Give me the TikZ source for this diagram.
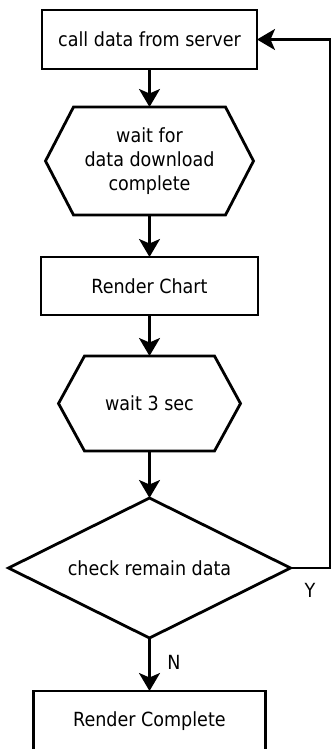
\documentclass[tikz,border=0pt]{standalone}
\usepackage{fontspec}
\setmainfont{DejaVu Sans Condensed}
\usetikzlibrary{arrows.meta,calc}

\tikzset{
  lbl/.style={font=\fontsize{19.5}{24}\selectfont, text=black},
  boxnode/.style={lbl, rectangle, draw, line width=2.8pt, outer sep=0pt,
    inner sep=0pt, align=center},
  shapeholder/.style={lbl, rectangle, outer sep=0pt, inner sep=0pt, align=center},
  outline/.style={line width=2.8pt, line join=miter},
  flow/.style={line width=2.4pt, -{Stealth[length=18pt,width=21pt,inset=4.5pt]}},
}

\begin{document}
\begin{tikzpicture}[x=1pt,y=-1pt]
  \useasboundingbox (0,0) rectangle (331,749);
  \clip (0,0) rectangle (331,749);

  % process boxes
  \node[boxnode, minimum width=215pt, minimum height=59pt] (call) at (149.5,39.5)
    {call data from server};
  \node[boxnode, minimum width=217pt, minimum height=58pt] (chart) at (149.5,286)
    {Render Chart};
  \node[boxnode, minimum width=232pt, minimum height=60pt] (done) at (149.5,721)
    {Render Complete};

  % hexagonal wait steps
  \node[shapeholder, minimum width=208pt, minimum height=108pt] (wait1) at (149.5,161)
    {wait for\\data download\\complete};
  \draw[outline] ([xshift=28pt]wait1.north west) -- ([xshift=-28pt]wait1.north east)
    -- (wait1.east) -- ([xshift=-28pt]wait1.south east)
    -- ([xshift=28pt]wait1.south west) -- (wait1.west) -- cycle;

  \node[shapeholder, minimum width=182pt, minimum height=95pt] (wait2) at (149.5,403.5)
    {wait 3 sec};
  \draw[outline] ([xshift=26pt]wait2.north west) -- ([xshift=-26pt]wait2.north east)
    -- (wait2.east) -- ([xshift=-26pt]wait2.south east)
    -- ([xshift=26pt]wait2.south west) -- (wait2.west) -- cycle;

  % decision
  \node[shapeholder, minimum width=282pt, minimum height=140pt] (check) at (149.5,568)
    {check remain data};
  \draw[outline] (check.north) -- (check.east) -- (check.south) -- (check.west) -- cycle;

  % flow
  \draw[flow] (call.south) -- (wait1.north);
  \draw[flow] (wait1.south) -- (chart.north);
  \draw[flow] (chart.south) -- (wait2.north);
  \draw[flow] (wait2.south) -- (check.north);
  \draw[flow] (check.south) -- (done.north);

  % loop back
  \coordinate (turnlow) at (330,568);
  \coordinate (turnhigh) at (330,39.5);
  \draw[flow, line join=miter] (check.east) -- (turnlow) -- (turnhigh) -- (call.east);

  % branch labels
  \node[lbl] (ylab) at (310,590) {Y};
  \node[lbl] (nlab) at (174,662) {N};
\end{tikzpicture}
\end{document}
